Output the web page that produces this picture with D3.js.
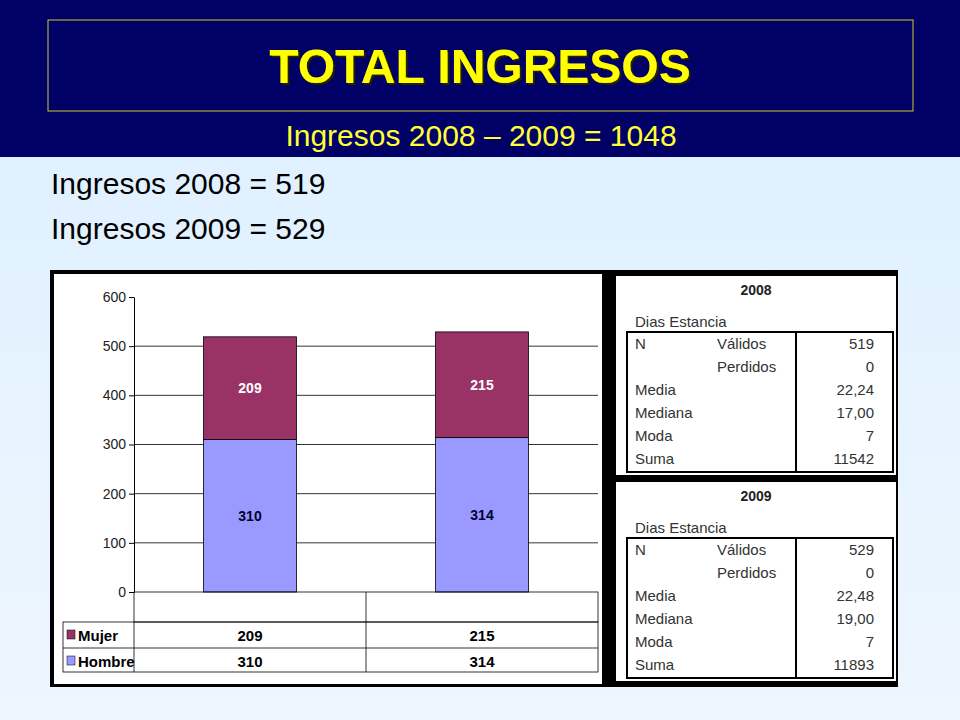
<!DOCTYPE html>
<html><head><meta charset="utf-8">
<script src="https://cdn.jsdelivr.net/npm/d3@7"></script>
<style>body{margin:0}svg{display:block;font-family:"Liberation Sans",Arial,sans-serif}</style>
</head><body><svg id="chart" width="960" height="720"></svg>
<script>
var years = ["2008", "2009"];
var mujer = [209, 215];
var hombre = [310, 314];
var yTicks = [0, 100, 200, 300, 400, 500, 600];
var statLabels = [["N", "Válidos"], ["", "Perdidos"], ["Media", ""], ["Mediana", ""], ["Moda", ""], ["Suma", ""]];
var stats2008 = ["519", "0", "22,24", "17,00", "7", "11542"];
var stats2009 = ["529", "0", "22,48", "19,00", "7", "11893"];

var svg = d3.select("#chart");
var defs = svg.append("defs");
var g1 = defs.append("linearGradient").attr("id", "bg").attr("x1", 0).attr("y1", 0).attr("x2", 0).attr("y2", 1);
g1.append("stop").attr("offset", "0").attr("stop-color", "#dcefff");
g1.append("stop").attr("offset", "1").attr("stop-color", "#eef6ff");
var sh = defs.append("filter").attr("id", "shadow");
sh.append("feDropShadow").attr("dx", 2).attr("dy", 2).attr("stdDeviation", 0.5).attr("flood-color", "#222200");
svg.append("rect").attr("width", 960).attr("height", 720).attr("fill", "url(#bg)");
svg.append("rect").attr("width", 960).attr("height", 157).attr("fill", "#000066");
svg.append("rect").attr("x", 48).attr("y", 20).attr("width", 865).attr("height", 91)
  .attr("fill", "none").attr("stroke", "#cccc33").attr("stroke-width", 1);
svg.append("text").attr("x", 480).attr("y", 83).attr("text-anchor", "middle").attr("filter", "url(#shadow)")
  .attr("font-size", 48).attr("font-weight", "bold").attr("fill", "#ffff00").text("TOTAL INGRESOS");
svg.append("text").attr("x", 481).attr("y", 146).attr("text-anchor", "middle")
  .attr("font-size", 30).attr("fill", "#ffff33").text("Ingresos 2008 – 2009 = 1048");
svg.append("text").attr("x", 51).attr("y", 194).attr("font-size", 30).attr("fill", "#000").text("Ingresos 2008 = 519");
svg.append("text").attr("x", 51).attr("y", 239).attr("font-size", 30).attr("fill", "#000").text("Ingresos 2009 = 529");

// chart panel
svg.append("rect").attr("x", 50).attr("y", 270).attr("width", 848).attr("height", 417).attr("fill", "#000");
svg.append("rect").attr("x", 54).attr("y", 274).attr("width", 548).attr("height", 410).attr("fill", "#fff");

var x = d3.scaleBand().domain(years).range([134, 598]).paddingInner(0).paddingOuter(0);
var y = d3.scaleLinear().domain([0, 600]).range([592, 297]);
var bw = 93;
var c = svg.append("g");
c.selectAll(".grid").data(yTicks.filter(function(d){return d > 0 && d < 600;})).enter().append("line")
  .attr("x1", 134).attr("x2", 598).attr("y1", function(d){return y(d);}).attr("y2", function(d){return y(d);})
  .attr("stroke", "#000").attr("stroke-width", 0.8);
var ay = d3.axisLeft(y).tickValues(yTicks).tickSize(5).tickSizeOuter(0);
var axg = c.append("g").attr("transform", "translate(134,0)").call(ay);
axg.selectAll("text").attr("font-size", 14).attr("fill", "#222").attr("font-family", "Liberation Sans Narrow,Arial");
axg.select(".domain").attr("stroke", "#000");

years.forEach(function(yr, i) {
  var cx = x(yr) + x.bandwidth() / 2;
  c.append("rect").attr("x", cx - bw / 2).attr("y", y(hombre[i])).attr("width", bw)
    .attr("height", y(0) - y(hombre[i])).attr("fill", "#9999ff").attr("stroke", "#000").attr("stroke-width", 0.8);
  c.append("rect").attr("x", cx - bw / 2).attr("y", y(hombre[i] + mujer[i])).attr("width", bw)
    .attr("height", y(0) - y(mujer[i])).attr("fill", "#993366").attr("stroke", "#000").attr("stroke-width", 0.8);
  c.append("text").attr("x", cx).attr("y", y(hombre[i] + mujer[i] / 2) + 5).attr("text-anchor", "middle")
    .attr("font-size", 14).attr("font-weight", "bold").attr("font-family", "Liberation Sans Narrow,Arial")
    .attr("fill", "#fff").text(mujer[i]);
  c.append("text").attr("x", cx).attr("y", y(hombre[i] / 2) + 5).attr("text-anchor", "middle")
    .attr("font-size", 14).attr("font-weight", "bold").attr("font-family", "Liberation Sans Narrow,Arial")
    .attr("fill", "#000033").text(hombre[i]);
});

// data table under the chart
var rows = [{name: "Mujer", col: "#993366", v: mujer}, {name: "Hombre", col: "#9999ff", v: hombre}];
var tl = c.append("g").attr("stroke", "#000").attr("stroke-width", 0.8).attr("fill", "none");
tl.append("rect").attr("x", 134).attr("y", 592).attr("width", 464).attr("height", 30);
tl.append("rect").attr("x", 63).attr("y", 622).attr("width", 535).attr("height", 50);
tl.append("line").attr("x1", 63).attr("x2", 598).attr("y1", 648).attr("y2", 648);
tl.append("line").attr("x1", 134).attr("x2", 134).attr("y1", 622).attr("y2", 672);
tl.append("line").attr("x1", 366).attr("x2", 366).attr("y1", 592).attr("y2", 672);
rows.forEach(function(r, j) {
  var ry = 622 + j * 26;
  c.append("rect").attr("x", 67).attr("y", ry + 8).attr("width", 8).attr("height", 9)
    .attr("fill", r.col).attr("stroke", "#000").attr("stroke-width", 0.5);
  c.append("text").attr("x", 78).attr("y", ry + 19).attr("font-size", 15).attr("font-weight", "bold")
    .attr("font-family", "Liberation Sans Narrow,Arial").text(r.name);
  years.forEach(function(yr, i) {
    c.append("text").attr("x", x(yr) + x.bandwidth() / 2).attr("y", ry + 19).attr("text-anchor", "middle")
      .attr("font-size", 15).attr("font-weight", "bold").attr("font-family", "Liberation Sans Narrow,Arial").text(r.v[i]);
  });
});

// stat panels
function statPanel(top, year, vals) {
  var p = svg.append("g").attr("transform", "translate(616," + top + ")");
  p.append("rect").attr("width", 280).attr("height", 199).attr("fill", "#fff");
  p.append("text").attr("x", 140).attr("y", 19).attr("text-anchor", "middle").attr("font-size", 14)
    .attr("font-weight", "bold").attr("fill", "#222").text(year);
  p.append("text").attr("x", 19).attr("y", 51).attr("font-size", 15).attr("fill", "#333").text("Dias Estancia");
  p.append("rect").attr("x", 11).attr("y", 56).attr("width", 266).attr("height", 140)
    .attr("fill", "none").attr("stroke", "#000").attr("stroke-width", 2);
  p.append("line").attr("x1", 180).attr("x2", 180).attr("y1", 56).attr("y2", 196).attr("stroke", "#000").attr("stroke-width", 2);
  statLabels.forEach(function(l, k) {
    var ty = 73 + k * 23;
    p.append("text").attr("x", 19).attr("y", ty).attr("font-size", 15).attr("fill", "#333").text(l[0]);
    p.append("text").attr("x", 101).attr("y", ty).attr("font-size", 15).attr("fill", "#333").text(l[1]);
    p.append("text").attr("x", 258).attr("y", ty).attr("text-anchor", "end").attr("font-size", 15).attr("fill", "#333").text(vals[k]);
  });
}
statPanel(276, "2008", stats2008);
statPanel(482, "2009", stats2009);
</script></body></html>
